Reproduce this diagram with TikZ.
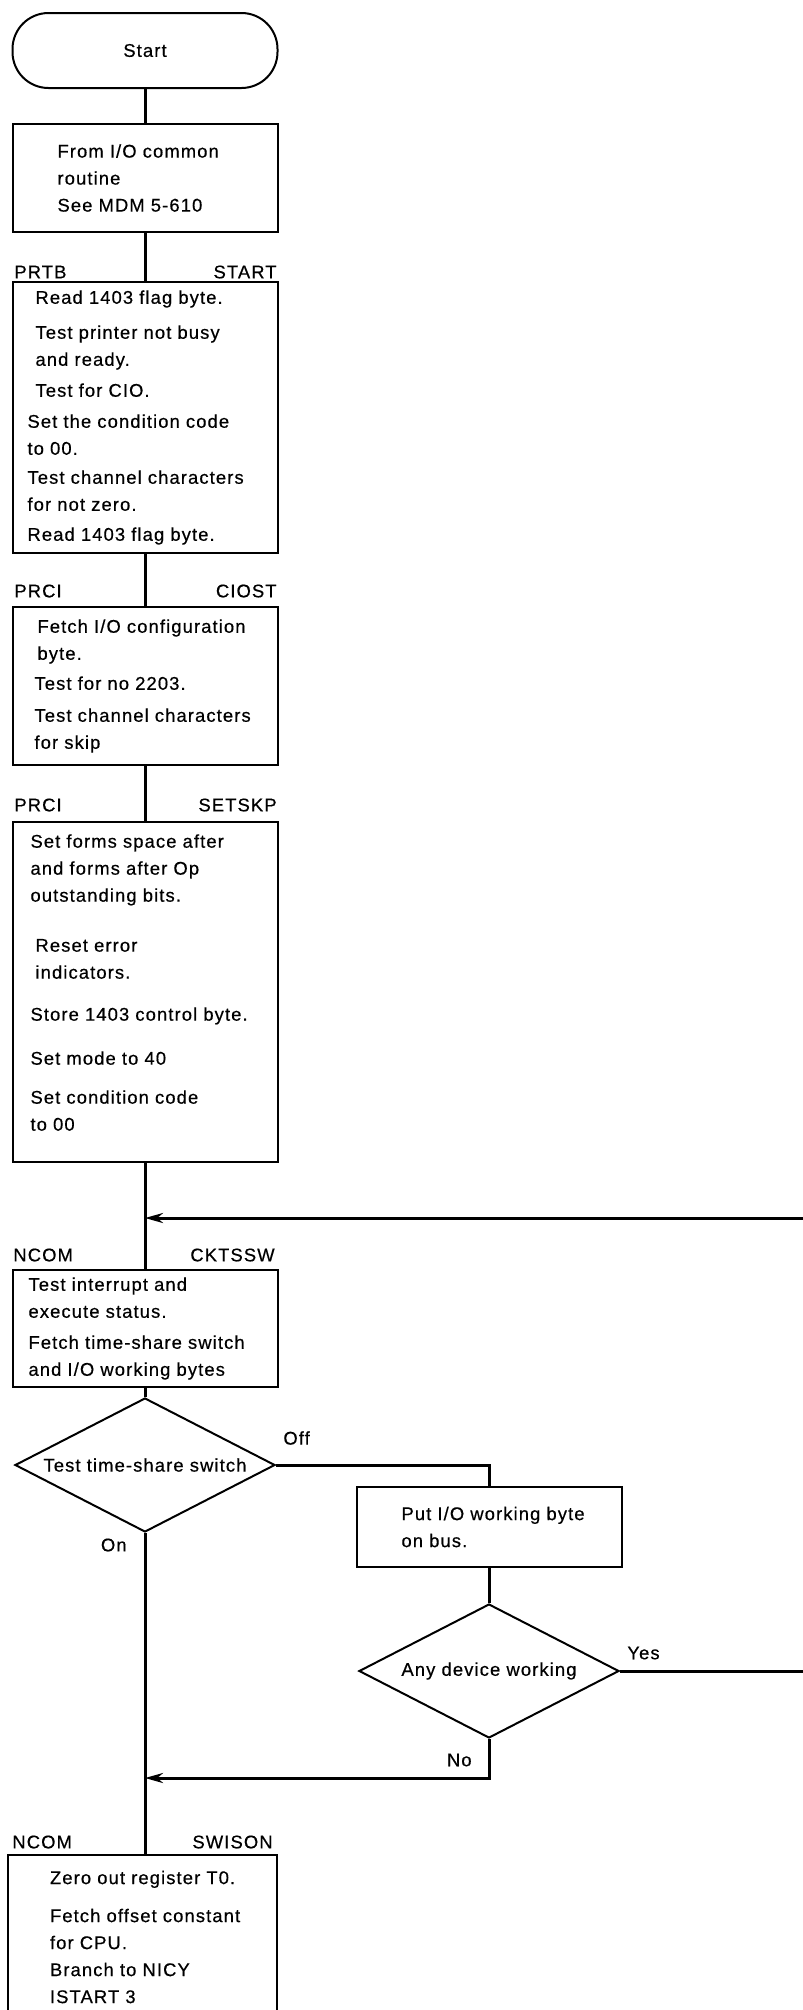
\documentclass[tikz,border=0pt]{standalone}
\usepackage{fontspec}
\newfontfamily\chartfont{Liberation Sans}[LetterSpace=6, FakeBold=0.5]
\usetikzlibrary{shapes.geometric,arrows.meta}

\tikzset{
	chart/.style={font=\chartfont\fontsize{9.2}{13.5}\selectfont},
	box/.style={draw, line width=1pt, minimum width=132.5pt,%
		text width=127.5pt, inner xsep=2.5pt, inner ysep=0pt,%
		align=left, execute at begin node={\leftskip=#1}},
	box/.default=5pt,
	term/.style={draw, line width=1pt, rounded corners=18pt,%
		minimum width=132.5pt, minimum height=37.5pt},
	decision/.style={diamond, draw, line width=1pt, inner sep=0pt,%
		aspect=1.94, minimum width=130pt, minimum height=67pt},
	tag/.style={inner sep=0pt},
	flow/.style={line width=1.5pt},
}

\begin{document}
\begin{tikzpicture}[x=0.5pt, y=-0.5pt, chart, >={Stealth[length=9pt,width=5pt]}]
	\clip (0,0) rectangle (803,2010);

	% main column
	\node[term] (start) at (145,50.5) {Start};
	\node[box=20pt, minimum height=54pt] (from) at (145,178)
		{From I/O common\\ routine\\ See MDM 5-610};
	\node[box, minimum height=135.5pt] (rdflag) at (145,417.5)
		{\hspace*{4pt}Read 1403 flag byte.\\[4pt]
		 \hspace*{4pt}Test printer not busy\\
		 \hspace*{4pt}and ready.\\[2pt]
		 \hspace*{4pt}Test for CIO.\\[2pt]
		 Set the condition code\\
		 to 00.\\[1pt]
		 Test channel characters\\
		 for not zero.\\[1.5pt]
		 Read 1403 flag byte.};
	\node[box=8.5pt, minimum height=79pt] (cfg) at (145,686)
		{\hspace*{1.5pt}Fetch I/O configuration\\
		 \hspace*{1.5pt}byte.\\[1.5pt]
		 Test for no 2203.\\[2.5pt]
		 Test channel characters\\
		 for skip};
	% empty last line keeps the text up near the top edge
	\node[box=6.5pt, minimum height=170pt] (skip) at (145,992)
		{Set forms space after\\
		 and forms after Op\\
		 outstanding bits.\\[11.5pt]
		 \hspace*{2.5pt}Reset error\\
		 \hspace*{2.5pt}indicators.\\[7.5pt]
		 Store 1403 control byte.\\[8.5pt]
		 Set mode to 40\\[6pt]
		 Set condition code\\
		 to 00\\[-4pt]\mbox{}};
	\node[box=5.5pt, minimum height=58.5pt] (ckts) at (145,1328.5)
		{Test interrupt and\\
		 execute status.\\[2pt]
		 Fetch time-share switch\\
		 and I/O working bytes};
	\node[decision] (tss) at (145,1465) {Test time-share switch};
	\node[box=20pt, minimum height=40pt] (putio) at (489,1527)
		{Put I/O working byte\\ on bus.};
	\node[decision] (dev) at (489,1671) {Any device working};
	\node[box=17.5pt, minimum width=134.5pt, minimum height=82pt] (swis) at (142.5,1937)
		{Zero out register T0.\\[5.5pt]
		 Fetch offset constant\\
		 for CPU.\\
		 Branch to NICY\\
		 ISTART 3};

	% entry names over the boxes
	\node[tag, anchor=west] (lprtb) at (14,272) {PRTB};
	\node[tag, anchor=east] (lstart) at (277,272) {START};
	\node[tag, anchor=west] (lprci) at (14,591) {PRCI};
	\node[tag, anchor=east] (lciost) at (277,591) {CIOST};
	\node[tag, anchor=west] (lprcib) at (14,805) {PRCI};
	\node[tag, anchor=east] (lsetskp) at (277,805) {SETSKP};
	\node[tag, anchor=west] (lncom) at (13,1255) {NCOM};
	\node[tag, anchor=east] (lcktssw) at (275,1255) {CKTSSW};
	\node[tag, anchor=west] (lncomb) at (12,1842) {NCOM};
	\node[tag, anchor=east] (lswison) at (273,1842) {SWISON};

	% branch labels
	\node[tag, anchor=west] (off) at (283,1438) {Off};
	\node[tag, anchor=east] (on) at (127,1545) {On};
	\node[tag, anchor=west] (yes) at (627,1653) {Yes};
	\node[tag, anchor=east] (no) at (472,1760) {No};

	\coordinate (loopend) at (803,1218);
	\coordinate (loopjoin) at (145,1218);
	\coordinate (yesend) at (803,1671);
	\coordinate (nojoin) at (145,1778);

	\foreach \a/\b in {start/from, from/rdflag, rdflag/cfg, cfg/skip, skip/ckts, ckts/tss}
		\draw[flow] (\a) -- (\b);
	\draw[flow] (tss.south) -- (tss.south |- swis.north);
	\draw[flow] (tss.east) -| (putio.north);
	\draw[flow] (putio) -- (dev);
	\draw[flow] (dev.east) -- (yesend);
	\draw[flow, ->] (dev.south) |- (nojoin);
	\draw[flow, ->] (loopend) -- (loopjoin);
\end{tikzpicture}
\end{document}
